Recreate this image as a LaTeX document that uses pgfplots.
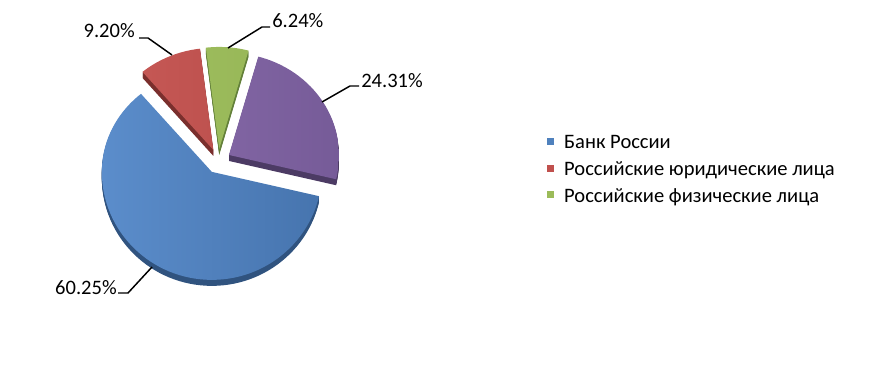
\documentclass[border=0pt]{standalone}
\usepackage{pgfplots}
\usepackage{pgfplotstable}
\pgfplotsset{compat=1.18}
\usepackage{fontspec}
\setmainfont{Carlito}

\definecolor{blueL}{HTML}{5B8DCB}
\definecolor{blueR}{HTML}{4674AE}
\definecolor{blueS}{HTML}{30537F}
\definecolor{redL}{HTML}{C85A57}
\definecolor{redR}{HTML}{B54A47}
\definecolor{redS}{HTML}{7A2F2D}
\definecolor{greenL}{HTML}{A2C262}
\definecolor{greenR}{HTML}{93B253}
\definecolor{greenS}{HTML}{63803A}
\definecolor{purpleL}{HTML}{8A6DAC}
\definecolor{purpleR}{HTML}{765B98}
\definecolor{purpleS}{HTML}{4C3B64}
\definecolor{legblue}{HTML}{4F81BD}
\definecolor{legred}{HTML}{C0504D}
\definecolor{leggreen}{HTML}{9BBB59}

% shares of the four slices, clockwise
\pgfplotstableread{
share
60.25
9.20
6.24
24.31
}\piedata

% geometry (pixels; 1 axis unit = 1 px = 0.75pt)
\def\cx{218.3}\def\cy{208.7}\def\ex{12.4}
\def\rx{82.5}\def\ryt{76.5}\def\ryb{81}

\begin{document}
\begin{tikzpicture}
\begin{axis}[
  x=0.75pt, y=0.75pt,
  xmin=0, xmax=883, ymin=0, ymax=370,
  hide axis, clip=false,
  legend style={at={(axis cs:547,237)}, anchor=north west,
    draw=none, fill=none, inner sep=0pt, outer sep=0pt,
    row sep=0pt, column sep=7.6pt,
    font=\fontsize{15.4}{18}\selectfont,
    nodes={inner sep=0pt, text height=12pt, text depth=7.9pt, anchor=base west}},
  legend cell align=left,
  legend image code/.code={\fill[#1] (0pt,3pt) rectangle (5.25pt,8.25pt);},
]
\addlegendimage{draw=none, fill=legblue}
\addlegendentry{Банк России}
\addlegendimage{draw=none, fill=legred}
\addlegendentry{Российские юридические лица}
\addlegendimage{draw=none, fill=leggreen}
\addlegendentry{Российские физические лица}

\pgfplotsextra{%
  \path (axis cs:0,0) rectangle (axis cs:883,370);
  \xdef\acc{-13}%
  \foreach \i in {0,1,2,3}{%
    \pgfplotstablegetelem{\i}{share}\of\piedata
    \pgfmathsetmacro\tA{\acc}%
    \pgfmathsetmacro\tB{\acc-3.6*\pgfplotsretval}%
    \pgfmathsetmacro\tM{(\tA+\tB)/2}%
    \pgfmathsetmacro\px{\cx+\ex*cos(\tM)}%
    \pgfmathsetmacro\py{\cy+\ex*sin(\tM)}%
    \xdef\acc{\tB}%
    \gdef\wedge{}%
    \foreach \j in {0,...,4}{%
      \pgfmathsetmacro\tt{\tA+(\tB-\tA)*\j/4}%
      \pgfmathsetmacro\wx{1.3*\rx*cos(\tt)}%
      \pgfmathsetmacro\wy{1.3*(sin(\tt)>=0?\ryt:\ryb)*sin(\tt)}%
      \xdef\wedge{\wedge -- +(\wx pt,\wy pt)}%
    }%
    \expandafter\xdef\csname W\i\endcsname{\wedge}%
    \expandafter\xdef\csname PX\i\endcsname{\px}%
    \expandafter\xdef\csname PY\i\endcsname{\py}%
  }%
  % side walls
  \foreach \i/\sc in {0/blueS,1/redS,2/greenS,3/purpleS}{%
    \edef\wedge{\csname W\i\endcsname}%
    \edef\px{\csname PX\i\endcsname}%
    \edef\py{\csname PY\i\endcsname}%
    \foreach \k in {6,5,4,3,2,1}{%
      \pgfmathsetmacro\pyk{\py-\k}%
      \begin{scope}
        \clip (axis cs:\px,\pyk) \wedge -- cycle;
        \fill[\sc] (axis cs:\px,\pyk) ++(\rx pt,0pt)
          arc[start angle=0,end angle=180,x radius=\rx pt,y radius=\ryt pt]
          arc[start angle=180,end angle=360,x radius=\rx pt,y radius=\ryb pt] -- cycle;
      \end{scope}
    }%
  }%
  % top faces
  \foreach \i/\lc/\rc in {0/blueL/blueR,1/redL/redR,2/greenL/greenR,3/purpleL/purpleR}{%
    \edef\wedge{\csname W\i\endcsname}%
    \edef\px{\csname PX\i\endcsname}%
    \edef\py{\csname PY\i\endcsname}%
    \begin{scope}
      \clip (axis cs:\px,\py) \wedge -- cycle;
      \shade[left color=\lc, right color=\rc] (axis cs:\px,\py) ++(\rx pt,0pt)
        arc[start angle=0,end angle=180,x radius=\rx pt,y radius=\ryt pt]
        arc[start angle=180,end angle=360,x radius=\rx pt,y radius=\ryb pt] -- cycle;
    \end{scope}
  }%
  % leader lines
  \draw[black, line width=1.1pt] (axis cs:172,315) -- (axis cs:148,332) -- (axis cs:139,332);
  \draw[black, line width=1.1pt] (axis cs:228,322) -- (axis cs:262,343) -- (axis cs:270,343);
  \draw[black, line width=1.1pt] (axis cs:322,268) -- (axis cs:350,284) -- (axis cs:359,284);
  \draw[black, line width=1.1pt] (axis cs:152,103) -- (axis cs:128,77) -- (axis cs:118,77);
  % labels
  \node[anchor=base east, inner sep=0pt, font=\fontsize{15.4}{18}\selectfont] at (axis cs:135,332) {9.20\%};
  \node[anchor=base west, inner sep=0pt, font=\fontsize{15.4}{18}\selectfont] at (axis cs:272,342) {6.24\%};
  \node[anchor=base west, inner sep=0pt, font=\fontsize{15.4}{18}\selectfont] at (axis cs:361,282) {24.31\%};
  \node[anchor=base east, inner sep=0pt, font=\fontsize{15.4}{18}\selectfont] at (axis cs:117,75) {60.25\%};
}
\end{axis}
\end{tikzpicture}
\end{document}
